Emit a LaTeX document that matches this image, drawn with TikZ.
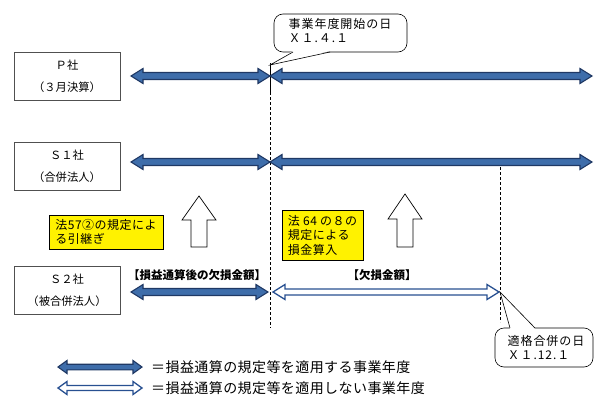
\documentclass[tikz,border=0pt]{standalone}
\usepackage{fontspec}
\setmainfont{Noto Sans CJK JP}
\usetikzlibrary{calc}
\definecolor{arrfill}{RGB}{62,109,170}
\definecolor{arrdraw}{RGB}{31,56,100}
\definecolor{holdraw}{RGB}{40,80,145}
\definecolor{boxgray}{RGB}{80,80,80}
\newcommand{\dblarrow}[7]{%
  \draw[#1] (#2,#4) -- ({#2+#7},{#4-#6}) -- ({#2+#7},{#4-#5}) -- ({#3-#7},{#4-#5})
    -- ({#3-#7},{#4-#6}) -- (#3,#4) -- ({#3-#7},{#4+#6}) -- ({#3-#7},{#4+#5})
    -- ({#2+#7},{#4+#5}) -- ({#2+#7},{#4+#6}) -- cycle;}
\newcommand{\ls}[1]{\addfontfeatures{LetterSpace=#1}}
\begin{document}
\begin{tikzpicture}[x=1pt,y=-1pt,
  cbox/.style={draw=boxgray,line width=0.8pt,fill=white,minimum width=106pt,minimum height=48pt,
    align=center,inner sep=0pt,font=\fontsize{11.3}{22}\selectfont},
  ybox/.style={draw=black,line width=0.6pt,fill=yellow,inner sep=0pt,align=left,
    font=\fontsize{12}{14.5}\selectfont\ls{4}},
  lbl/.style={inner sep=0pt,font=\fontsize{11.5}{14}\selectfont\bfseries},
  ctext/.style={inner sep=0pt,align=left,font=\fontsize{12}{14}\selectfont\ls{8}},
  leg/.style={inner sep=0pt,anchor=west,font=\fontsize{14}{16}\selectfont\ls{3}},
  dark/.style={fill=arrfill,draw=arrdraw,line width=1.1pt,line join=miter},
  hollow/.style={fill=white,draw=holdraw,line width=1.3pt,line join=miter},
  upbox/.style={fill=white,draw=black,line width=0.7pt},
  callout/.style={fill=white,draw=black,line width=0.6pt},
  dashv/.style={draw=black,line width=0.6pt,dash pattern=on 3pt off 2pt}]
\useasboundingbox (0,0) rectangle (600,415);

% vertical guide lines
\coordinate (v1t) at (270,63);
\coordinate (v1m) at (270,92);
\coordinate (v1b) at (270,328);
\coordinate (v2t) at (500,167);
\coordinate (v2b) at (500,322);
\draw[line width=0.6pt] (v1t) -- (v1m);
\draw[dashv] (v1m) -- (v1b);
\draw[dashv] (v2t) -- (v2b);

% company boxes
\node[cbox] (P) at (67,76) {Ｐ社\\（３月決算）};
\node[cbox] (S1) at (67,166) {Ｓ１社\\（合併法人）};
\node[cbox] (S2) at (67,290.5) {Ｓ２社\\（被合併法人）};

% timeline arrows
\dblarrow{dark}{131}{270}{76}{3.5}{7.5}{12}
\dblarrow{dark}{270}{592}{76}{3.5}{7.5}{12}
\dblarrow{dark}{131}{270}{162}{3.5}{7.5}{12}
\dblarrow{dark}{270}{592}{162}{3.5}{7.5}{12}
\dblarrow{dark}{131}{268}{292}{3.5}{7.5}{12}
\dblarrow{hollow}{273}{499}{292}{3}{7.5}{12}

% up arrows
\draw[upbox] (199,196) -- (216,220) -- (207,220) -- (207,247) -- (191,247) -- (191,220) -- (182,220) -- cycle;
\draw[upbox] (405,194) -- (422,219) -- (413,219) -- (413,247) -- (397,247) -- (397,219) -- (388,219) -- cycle;

% yellow boxes
\node[ybox,minimum width=114pt,minimum height=34pt] (y1) at (106,232) {法57②の規定によ\\る引継ぎ};
\node[ybox,minimum width=81pt,minimum height=50pt] (y2) at (322.5,235) {法 64 の８の\\規定による\\損金算入};

% labels above S2 arrows
\node[lbl] (l1) at (197,275) {【損益通算後の欠損金額】};
\node[lbl] (l2) at (382,275) {【欠損金額】};

% callout 1
\coordinate (c1tip) at (270,65);
\draw[callout,rounded corners=9pt] (274,14) rectangle (407,52);
\fill[white] (293,51) -- (c1tip) -- (330,51) -- cycle;
\draw[line width=0.6pt] (293,52) -- (c1tip) -- (330,52);
\node[ctext] (c1) at (340,31) {事業年度開始の日\\Ｘ１.４.１};

% callout 2
\coordinate (c2tip) at (500,292);
\draw[callout,rounded corners=9pt] (495,328) rectangle (593,367);
\fill[white] (510,329) -- (c2tip) -- (535,329) -- cycle;
\draw[line width=0.6pt] (510,328) -- (c2tip) -- (535,328);
\node[ctext] (c2) at (546,347.5) {適格合併の日\\Ｘ１.12.１};

% legend
\dblarrow{dark}{58}{142}{367}{2.8}{6.5}{9}
\dblarrow{hollow}{58}{142}{388}{2.5}{6.5}{9}
\node[leg] (t1) at (151,367) {＝損益通算の規定等を適用する事業年度};
\node[leg] (t2) at (151,388) {＝損益通算の規定等を適用しない事業年度};
\end{tikzpicture}
\end{document}
